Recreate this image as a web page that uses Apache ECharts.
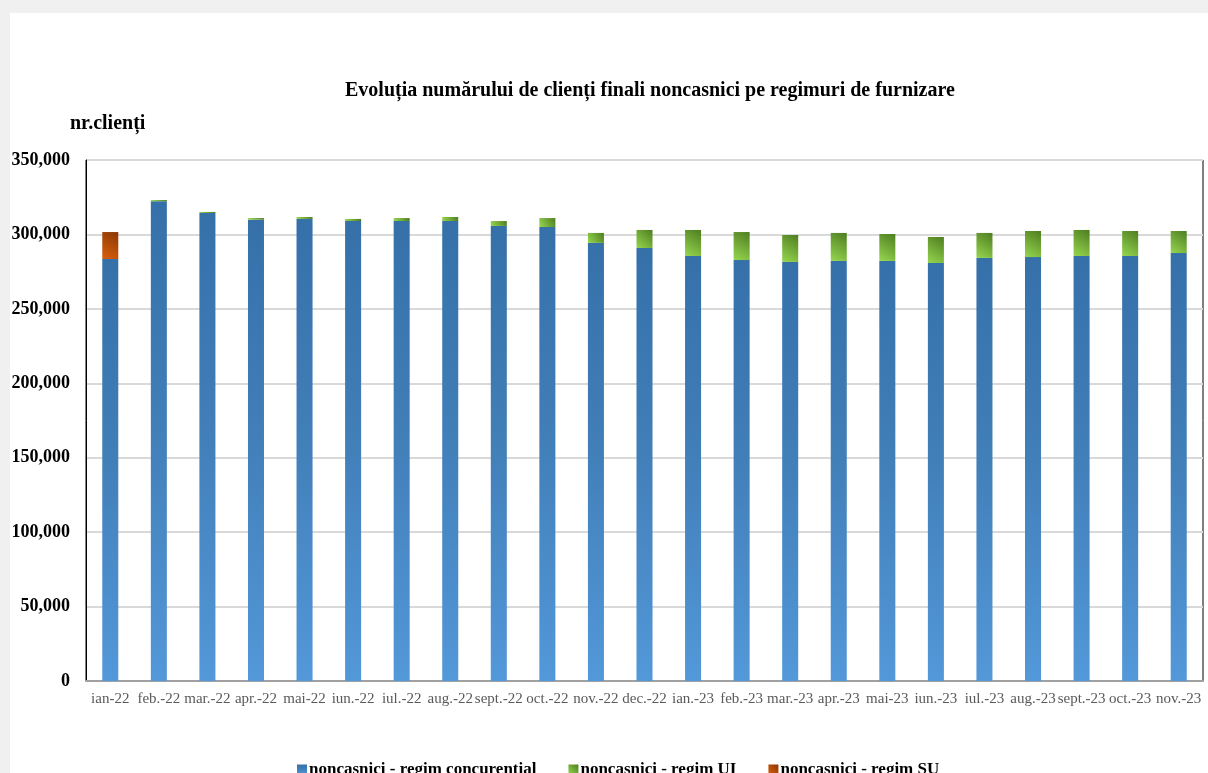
<!DOCTYPE html>
<html>
<head>
<meta charset="utf-8">
<script src="https://cdn.jsdelivr.net/npm/echarts@6/dist/echarts.min.js"></script>
<style>
html,body{margin:0;padding:0;background:#fff;}
#c{width:1208px;height:773px;}
</style>
</head>
<body>
<div id="c"></div>
<script>
const categories = ["ian-22","feb.-22","mar.-22","apr.-22","mai-22","iun.-22","iul.-22","aug.-22","sept.-22","oct.-22","nov.-22","dec.-22","ian.-23","feb.-23","mar.-23","apr.-23","mai-23","iun.-23","iul.-23","aug.-23","sept.-23","oct.-23","nov.-23"];
const concurential = [283500,322300,314400,309900,310400,309000,309000,309000,305700,305000,294300,290900,285500,282800,281500,282200,282200,280800,284200,284800,285500,285500,287500];
const regimUI = [0,800,700,1100,1300,1400,2000,2700,3300,6000,6700,12100,17500,18800,18100,18800,18100,17500,16800,17500,17500,16800,14800];
const regimSU = [18100,0,0,0,0,0,0,0,0,0,0,0,0,0,0,0,0,0,0,0,0,0,0];
const yTicks = [0,50000,100000,150000,200000,250000,300000,350000];
const seriesNames = ["noncasnici - regim concurențial","noncasnici - regim UI","noncasnici - regim SU"];

const FONT = '"Liberation Serif","Times New Roman",serif';
function grad(x0,y0,x1,y1,stops){
  return new echarts.graphic.LinearGradient(x0,y0,x1,y1,stops.map((c,i)=>({offset:i/(stops.length-1),color:c})));
}
const chart = echarts.init(document.getElementById('c'));
chart.setOption({
  animation:false,
  backgroundColor:'#ffffff',
  title:{
    text:'Evoluția numărului de clienți finali noncasnici pe regimuri de furnizare',
    left:340, top:76,
    textStyle:{fontFamily:FONT,fontSize:20,fontWeight:'bold',color:'#000'}
  },
  graphic:[
    {type:'rect',left:0,top:0,shape:{width:1208,height:13},style:{fill:'#f0f0f0'},z:-1},
    {type:'rect',left:0,top:0,shape:{width:10,height:773},style:{fill:'#f0f0f0'},z:-1},
    {type:'text',left:70,top:114,style:{text:'nr.clienți',font:'bold 20px '+FONT,fill:'#000'}}
  ],
  legend:{
    bottom:-10, left:292,
    itemGap:32, itemWidth:10, itemHeight:10,
    icon:'rect',
    textStyle:{fontFamily:FONT,fontSize:17,fontWeight:'bold',color:'#000',padding:[0,0,0,-3]},
    data:seriesNames
  },
  grid:{left:86,right:5,top:160,bottom:92,show:true,borderColor:'#000',borderWidth:1,containLabel:false},
  xAxis:{
    type:'category',data:categories,
    axisLine:{lineStyle:{color:'#a0a0a0',width:2}},
    axisTick:{show:false},
    axisLabel:{interval:0,fontFamily:FONT,fontSize:15,color:'#595959',margin:11}
  },
  yAxis:{
    type:'value',min:0,max:350000,interval:50000,
    axisLine:{show:true,lineStyle:{color:'#000'}},
    axisTick:{show:false},
    splitLine:{lineStyle:{color:'#d9d9d9',width:2}},
    axisLabel:{fontFamily:FONT,fontSize:18,fontWeight:'bold',color:'#000',margin:16,
      formatter:v=>yTicks.includes(v)?v.toLocaleString('en-US'):''}
  },
  series:[
    {name:seriesNames[0],type:'bar',stack:'t',data:concurential,barWidth:'33%',
      itemStyle:{color:grad(0,1,0,0,['#5398d9','#4280ba','#3570a9'])}},
    {name:seriesNames[1],type:'bar',stack:'t',data:regimUI,barWidth:'33%',
      itemStyle:{color:grad(0,1,1,0,['#95d64f','#72aa38','#4e7d20'])}},
    {name:seriesNames[2],type:'bar',stack:'t',data:regimSU,barWidth:'33%',
      itemStyle:{color:grad(0,1,1,0,['#d95e0c','#b24c08','#8a3605'])}}
  ]
});
</script>
</body>
</html>
